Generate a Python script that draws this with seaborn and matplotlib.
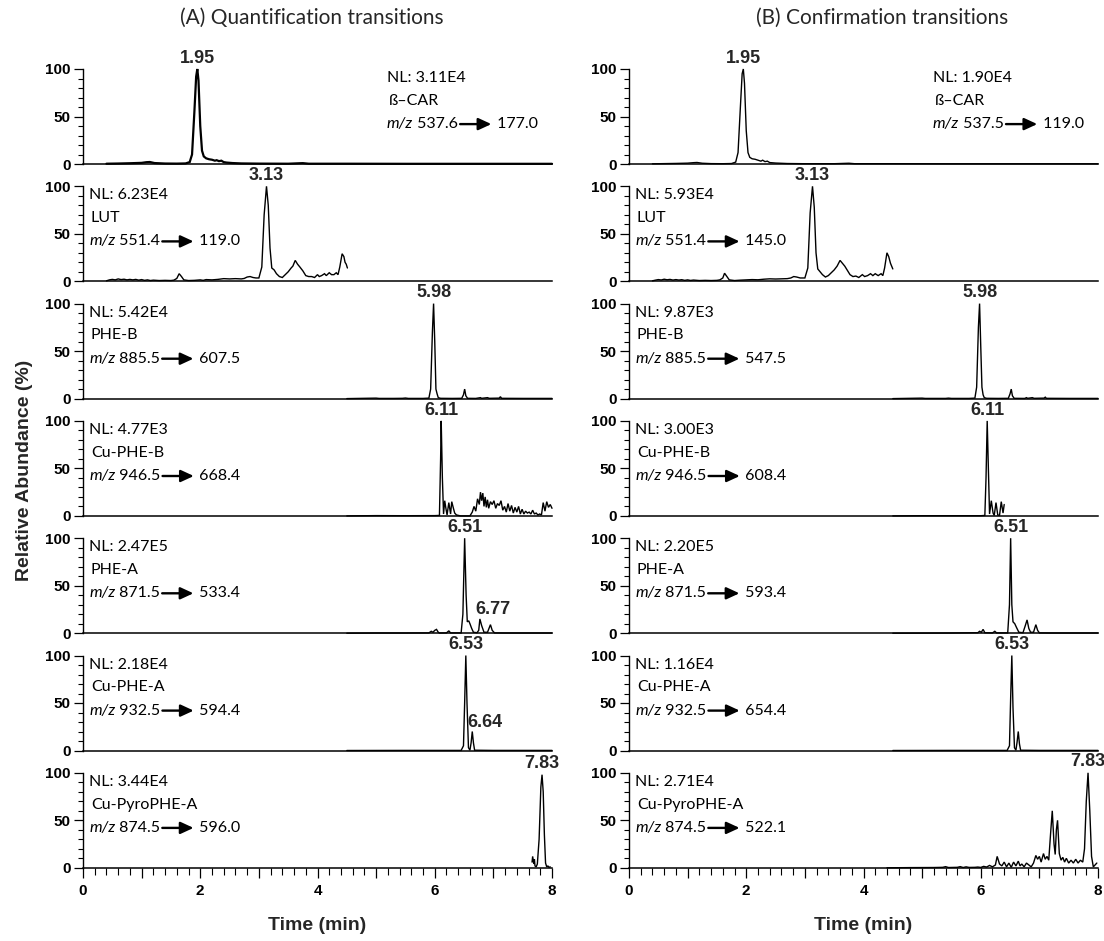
import numpy as np
import pandas as pd
import matplotlib
matplotlib.use("Agg")
import matplotlib.pyplot as plt
from matplotlib.text import OffsetFrom
import seaborn as sns

# ---------------- chromatogram traces: (time in min, relative abundance %) ----------------
quant_bcar = [(0.40, 0.3), (0.6, 0.5), (0.8, 0.8), (1.0, 1.2), (1.08, 1.9), (1.14, 2.1), (1.22, 1.0),
              (1.4, 0.5), (1.6, 0.4), (1.75, 0.6), (1.82, 2), (1.86, 10), (1.90, 55), (1.93, 92),
              (1.95, 100), (1.97, 88), (2.00, 40), (2.03, 14), (2.06, 8), (2.10, 6), (2.15, 5),
              (2.20, 4.5), (2.25, 3.5), (2.28, 4), (2.32, 3), (2.36, 3.5), (2.40, 2), (2.45, 1.5),
              (2.55, 1), (2.70, 0.6), (3.0, 0.4), (3.5, 0.3), (3.70, 0.8), (3.75, 0.9), (3.85, 0.3),
              (4.5, 0.3), (5.5, 0.2), (6.5, 0.2), (7.5, 0.2), (8.0, 0.2)]
quant_lut = [(0.40, 0.5), (0.45, 1.5), (0.50, 2), (0.55, 1.5), (0.60, 2.5), (0.65, 1.8), (0.70, 2.2),
             (0.75, 1.5), (0.80, 2), (0.85, 1.5), (0.90, 2), (0.95, 1.2), (1.00, 1.8), (1.05, 1),
             (1.10, 1.5), (1.15, 0.8), (1.20, 1.2), (1.30, 0.8), (1.40, 1), (1.50, 0.8), (1.55, 1.2),
             (1.60, 3), (1.64, 8), (1.68, 5), (1.72, 1.5), (1.80, 0.8), (1.90, 1), (2.00, 1.5),
             (2.05, 1), (2.10, 1.8), (2.20, 1.5), (2.30, 2), (2.40, 2.8), (2.50, 2.5), (2.60, 2.8),
             (2.70, 2.5), (2.75, 3), (2.80, 4.5), (2.85, 5), (2.90, 4), (2.95, 3.5), (3.00, 3.5),
             (3.05, 15), (3.09, 70), (3.13, 100), (3.16, 80), (3.19, 35), (3.22, 14), (3.26, 12),
             (3.30, 8), (3.35, 5), (3.40, 4), (3.45, 7), (3.50, 10), (3.55, 14), (3.58, 16),
             (3.62, 22), (3.66, 18), (3.70, 15), (3.75, 11), (3.80, 6), (3.85, 5), (3.90, 5),
             (3.95, 4), (4.00, 7), (4.03, 5), (4.07, 6), (4.12, 8), (4.15, 6), (4.20, 9), (4.24, 7),
             (4.28, 7), (4.32, 9), (4.35, 7), (4.38, 15), (4.42, 29), (4.45, 26), (4.47, 20),
             (4.49, 18), (4.51, 14)]
quant_pheb = [(4.5, 0), (4.8, 0.3), (5.0, 0.5), (5.05, 0.2), (5.3, 0.2), (5.45, 0.3), (5.5, 0.6),
              (5.55, 0.2), (5.8, 0.2), (5.9, 0.5), (5.93, 10), (5.96, 70), (5.98, 100), (6.00, 60),
              (6.02, 10), (6.04, 5), (6.06, 1), (6.10, 0.3), (6.30, 0.2), (6.46, 0.3), (6.49, 4),
              (6.51, 10), (6.53, 3), (6.56, 0.3), (6.70, 0.2), (6.78, 1), (6.80, 0.3), (6.90, 1),
              (6.93, 0.3), (7.10, 0.5), (7.12, 2), (7.14, 0.3), (7.5, 0.2), (8.0, 0.2)]
quant_cupheb = [(4.5, 0), (5.0, 0.3), (5.5, 0.2), (6.0, 0.3), (6.08, 0.5), (6.10, 60), (6.11, 100),
                (6.13, 40), (6.15, 2), (6.17, 16), (6.19, 8), (6.21, 1), (6.24, 14), (6.27, 2),
                (6.29, 15), (6.31, 10), (6.34, 3), (6.37, 1), (6.44, 0), (6.60, 0), (6.64, 4),
                (6.67, 10), (6.70, 5), (6.73, 18), (6.76, 12), (6.78, 25), (6.80, 16), (6.82, 24),
                (6.84, 10), (6.86, 20), (6.88, 9), (6.90, 17), (6.92, 8), (6.95, 15), (6.98, 12),
                (7.01, 16), (7.04, 8), (7.07, 13), (7.10, 11), (7.13, 16), (7.16, 6), (7.19, 10),
                (7.22, 4), (7.25, 13), (7.28, 5), (7.31, 11), (7.34, 3), (7.37, 9), (7.40, 4),
                (7.43, 10), (7.46, 2), (7.49, 7), (7.52, 2), (7.55, 5), (7.58, 3), (7.61, 4),
                (7.64, 2), (7.67, 6), (7.70, 2), (7.73, 3), (7.76, 1), (7.79, 2), (7.82, 1),
                (7.85, 14), (7.88, 5), (7.91, 15), (7.94, 9), (7.97, 12), (8.00, 8)]
quant_phea = [(4.5, 0), (5.0, 0.2), (5.5, 0.2), (5.90, 0.3), (5.94, 2), (5.97, 1), (6.00, 3),
              (6.03, 4), (6.06, 1), (6.08, 0.2), (6.20, 0.3), (6.24, 2.5), (6.27, 0.3), (6.45, 0.3),
              (6.48, 20), (6.51, 100), (6.535, 40), (6.555, 12), (6.58, 13), (6.60, 10), (6.63, 5),
              (6.66, 1), (6.72, 0.5), (6.75, 3), (6.77, 15), (6.80, 8), (6.84, 1), (6.90, 1),
              (6.95, 9), (6.98, 3), (7.02, 0.3), (7.2, 0.2), (8.0, 0.2)]
quant_cuphea = [(4.5, 0), (5.5, 0.1), (6.45, 0.1), (6.49, 5), (6.51, 50), (6.53, 100), (6.55, 50),
                (6.575, 3), (6.60, 0.3), (6.62, 8), (6.64, 20), (6.66, 8), (6.68, 0.3), (7.0, 0.1),
                (8.0, 0.1)]
quant_cupyro = [(7.66, 6), (7.67, 12), (7.69, 4), (7.70, 9), (7.71, 2), (7.73, 1), (7.75, 4),
                (7.78, 30), (7.81, 85), (7.83, 98), (7.85, 80), (7.87, 35), (7.89, 5), (7.91, 1),
                (7.93, 2), (7.95, 0.5), (7.97, 1)]

conf_bcar = [(0.40, 0.2), (0.6, 0.4), (0.8, 0.6), (1.0, 0.9), (1.1, 1.4), (1.16, 1.6), (1.25, 0.8),
             (1.4, 0.4), (1.6, 0.3), (1.75, 0.5), (1.82, 2), (1.86, 12), (1.90, 60), (1.93, 95),
             (1.95, 100), (1.97, 85), (2.00, 35), (2.03, 12), (2.06, 7), (2.10, 5.5), (2.15, 5),
             (2.20, 4), (2.25, 3), (2.28, 4), (2.32, 2.5), (2.36, 3), (2.40, 1.5), (2.50, 1),
             (2.70, 0.5), (3.0, 0.3), (3.5, 0.3), (3.70, 0.7), (3.75, 0.8), (3.85, 0.3), (4.5, 0.3),
             (5.5, 0.2), (6.5, 0.2), (7.5, 0.2), (8.0, 0.2)]
conf_lut = [(0.40, 0.5), (0.45, 1.2), (0.50, 1.8), (0.55, 1.4), (0.60, 2.2), (0.65, 1.6), (0.70, 2.0),
            (0.75, 1.3), (0.80, 1.8), (0.85, 1.3), (0.90, 1.7), (0.95, 1.0), (1.00, 1.5), (1.05, 0.9),
            (1.10, 1.3), (1.20, 0.8), (1.30, 1.0), (1.40, 0.8), (1.50, 1.0), (1.55, 1.5), (1.60, 3.5),
            (1.63, 8.5), (1.67, 5), (1.71, 1.5), (1.80, 0.8), (1.90, 1.2), (2.00, 1.5), (2.10, 1.8),
            (2.20, 1.6), (2.30, 2.2), (2.40, 2.6), (2.50, 2.4), (2.60, 2.6), (2.70, 2.8), (2.76, 3.5),
            (2.81, 5), (2.86, 4.5), (2.92, 3.5), (3.00, 3.5), (3.05, 14), (3.09, 72), (3.13, 100),
            (3.16, 78), (3.19, 30), (3.22, 13), (3.26, 10), (3.30, 7), (3.35, 4.5), (3.40, 6),
            (3.45, 9), (3.50, 12), (3.55, 16), (3.60, 22), (3.64, 19), (3.68, 16), (3.72, 12),
            (3.77, 7), (3.82, 5), (3.87, 5.5), (3.92, 4), (3.98, 7), (4.02, 5), (4.07, 6), (4.12, 8),
            (4.16, 6), (4.20, 8), (4.25, 6), (4.30, 8), (4.33, 6), (4.36, 14), (4.40, 30),
            (4.43, 26), (4.46, 19), (4.48, 16), (4.50, 13)]
conf_pheb = [(4.5, 0), (4.8, 0.3), (5.0, 0.5), (5.05, 0.2), (5.4, 0.2), (5.45, 0.5), (5.5, 0.2),
             (5.8, 0.2), (5.9, 0.5), (5.93, 12), (5.96, 75), (5.98, 100), (6.00, 55), (6.02, 12),
             (6.04, 4), (6.06, 1), (6.10, 0.3), (6.30, 0.2), (6.47, 0.3), (6.50, 5), (6.52, 10),
             (6.54, 3), (6.57, 0.3), (6.75, 0.2), (6.78, 1), (6.80, 0.3), (6.88, 1), (6.91, 0.3),
             (7.08, 0.5), (7.10, 1.5), (7.12, 0.3), (7.5, 0.2), (8.0, 0.2)]
conf_cupheb = [(4.5, 0), (5.0, 0.2), (5.5, 0.2), (6.0, 0.2), (6.07, 0.5), (6.09, 40), (6.11, 100),
               (6.13, 50), (6.15, 2), (6.18, 16), (6.21, 3), (6.23, 0.5), (6.26, 14), (6.29, 1),
               (6.32, 0.5), (6.35, 15), (6.38, 3), (6.40, 12)]
conf_phea = [(4.5, 0), (5.5, 0.2), (5.95, 0.5), (5.98, 2), (6.01, 1), (6.04, 4), (6.07, 0.5),
             (6.20, 0.3), (6.24, 2), (6.27, 0.3), (6.46, 0.3), (6.49, 30), (6.51, 100), (6.53, 30),
             (6.55, 12), (6.58, 10), (6.61, 6), (6.65, 1), (6.72, 0.5), (6.76, 8), (6.79, 14),
             (6.82, 5), (6.85, 1), (6.90, 1), (6.94, 9), (6.97, 3), (7.00, 0.3), (7.2, 0.2), (8.0, 0.2)]
conf_cuphea = [(4.5, 0), (5.5, 0.1), (6.45, 0.1), (6.49, 5), (6.51, 55), (6.53, 100), (6.55, 45),
               (6.575, 3), (6.60, 0.3), (6.62, 9), (6.64, 20), (6.66, 7), (6.68, 0.3), (7.0, 0.1),
               (8.0, 0.1)]
conf_cupyro = [(4.4, 0), (4.8, 0.2), (5.2, 0.3), (5.35, 0.5), (5.40, 1.2), (5.45, 0.3), (5.60, 0.5),
               (5.65, 1.2), (5.70, 0.3), (5.75, 1), (5.80, 0.4), (5.90, 0.5), (5.95, 0.8), (6.00, 0.4),
               (6.05, 1.5), (6.10, 0.8), (6.15, 2.5), (6.20, 1), (6.25, 3), (6.28, 12), (6.32, 4),
               (6.36, 2), (6.40, 6), (6.44, 1), (6.48, 5), (6.52, 0.5), (6.56, 6), (6.60, 2),
               (6.64, 7), (6.67, 2), (6.70, 4), (6.74, 1), (6.78, 5), (6.82, 3), (6.86, 1), (6.90, 5),
               (6.94, 13), (6.97, 9), (7.00, 12), (7.03, 6), (7.07, 15), (7.10, 9), (7.13, 12),
               (7.16, 8), (7.19, 35), (7.22, 60), (7.25, 25), (7.27, 14), (7.29, 40), (7.31, 50),
               (7.34, 15), (7.37, 8), (7.40, 11), (7.43, 6), (7.46, 10), (7.50, 5), (7.54, 8),
               (7.58, 5), (7.62, 9), (7.66, 5), (7.70, 8), (7.74, 6), (7.77, 20), (7.80, 70),
               (7.83, 100), (7.86, 60), (7.89, 12), (7.92, 1), (7.95, 3), (7.98, 5)]

# ---------------- panel annotations ----------------
compounds = ["ß–CAR", "LUT", "PHE-B", "Cu-PHE-B", "PHE-A", "Cu-PHE-A", "Cu-PyroPHE-A"]
quant_nl = ["3.11E4", "6.23E4", "5.42E4", "4.77E3", "2.47E5", "2.18E4", "3.44E4"]
conf_nl = ["1.90E4", "5.93E4", "9.87E3", "3.00E3", "2.20E5", "1.16E4", "2.71E4"]
quant_precursor = ["537.6", "551.4", "885.5", "946.5", "871.5", "932.5", "874.5"]
quant_product = ["177.0", "119.0", "607.5", "668.4", "533.4", "594.4", "596.0"]
conf_precursor = ["537.5", "551.4", "885.5", "946.5", "871.5", "932.5", "874.5"]
conf_product = ["119.0", "145.0", "547.5", "608.4", "593.4", "654.4", "522.1"]
quant_peaks = [[1.95], [3.13], [5.98], [6.11], [6.51, 6.77], [6.53, 6.64], [7.83]]
conf_peaks = [[1.95], [3.13], [5.98], [6.11], [6.51], [6.53], [7.83]]

quant_traces = [quant_bcar, quant_lut, quant_pheb, quant_cupheb, quant_phea, quant_cuphea, quant_cupyro]
conf_traces = [conf_bcar, conf_lut, conf_pheb, conf_cupheb, conf_phea, conf_cuphea, conf_cupyro]

# ---------------- styling ----------------
sns.set_theme(style="ticks")
plt.rcParams["font.family"] = ["Liberation Sans", "DejaVu Sans"]
plt.rcParams["axes.linewidth"] = 1.0
plt.rcParams["axes.edgecolor"] = "black"
plt.rcParams["xtick.color"] = "black"
plt.rcParams["ytick.color"] = "black"

TEXT_FONT = ["Lato", "DejaVu Sans"]
INFO_SIZE = 11.5
ARROW_LEN = 24
W, H = 1104, 941
fig = plt.figure(figsize=(W / 100, H / 100), dpi=100)
fig.patch.set_facecolor("white")

col_left = [83, 629]
ax_w, ax_h = 469, 95
row_top0, row_pitch = 69, 117.3

ARROW = dict(arrowstyle="-|>,head_length=0.65,head_width=0.3", color="black", lw=1.7,
             shrinkA=0, shrinkB=0, mutation_scale=12)


def info_block(ax, x, nl, name, prec, prod):
    kw = dict(fontsize=INFO_SIZE, family=TEXT_FONT, color="black")
    ax.text(x, 0.905, f"NL: {nl}", transform=ax.transAxes, va="center", ha="left", **kw)
    ax.text(x + 0.004, 0.665, name, transform=ax.transAxes, va="center", ha="left", **kw)
    t0 = ax.text(x, 0.42, "m/z", style="italic", transform=ax.transAxes, va="center", ha="left", **kw)
    t1 = ax.annotate(f" {prec}", xy=(1, 0.5), xycoords=t0, va="center", ha="left", **kw)
    ref = OffsetFrom(t1, (1, 0.5))
    ax.annotate("", xy=(ARROW_LEN, 0), xycoords=ref, xytext=(1.5, 0), textcoords=ref,
                arrowprops=ARROW)
    ax.annotate(f" {prod}", xy=(1, 0.5), xycoords=t1, xytext=(ARROW_LEN + 1, 0),
                textcoords="offset points", va="center", ha="left", **kw)


columns = [
    (quant_traces, quant_nl, quant_precursor, quant_product, quant_peaks),
    (conf_traces, conf_nl, conf_precursor, conf_product, conf_peaks),
]

for c, (traces, nls, precs, prods, peaks) in enumerate(columns):
    for r in range(7):
        top = row_top0 + r * row_pitch
        ax = fig.add_axes([col_left[c] / W, 1 - (top + ax_h) / H, ax_w / W, ax_h / H])
        ax.set_facecolor("white")
        df = pd.DataFrame(traces[r], columns=["time", "abundance"])
        lw = 1.6 if (c == 0 and r == 0) else 1.0
        sns.lineplot(data=df, x="time", y="abundance", ax=ax, color="black", linewidth=lw,
                     estimator=None, sort=False, errorbar=None, legend=False)
        for ln in ax.lines:
            ln.set_clip_on(False)
            ln.set_solid_joinstyle("miter")
        ax.set_xlim(0, 8)
        ax.set_ylim(0, 100)
        ax.set_xlabel("")
        ax.set_ylabel("")
        sns.despine(ax=ax)
        ax.spines["left"].set_linewidth(1.0)
        ax.spines["bottom"].set_linewidth(1.1)

        ax.set_yticks([0, 50, 100])
        ax.set_yticklabels(["0", "50", "100"], fontweight="bold", fontsize=11)
        ax.set_yticks(np.arange(0, 101, 10), minor=True)
        ax.tick_params(axis="y", which="major", length=6.5, width=0.9, pad=2.5, direction="out")
        ax.tick_params(axis="y", which="minor", length=3.5, width=0.8, direction="out")

        if r == 6:
            ax.set_xticks(np.arange(0, 9, 1))
            ax.set_xticklabels([str(v) if v % 2 == 0 else "" for v in range(9)],
                               fontweight="bold", fontsize=11)
            ax.set_xticks(np.arange(0, 8.01, 0.2), minor=True)
            ax.tick_params(axis="x", which="major", length=7.5, width=0.9, pad=4, direction="out")
            ax.tick_params(axis="x", which="minor", length=5, width=0.8, direction="out")
            ax.set_xlabel("Time (min)", fontweight="bold", fontsize=14, labelpad=14)
        else:
            ax.tick_params(axis="x", which="both", bottom=False, labelbottom=False)

        # retention-time labels placed on the trace
        for k, rt in enumerate(peaks[r]):
            h = np.interp(rt, df["time"], df["abundance"])
            if k == 0:
                ax.text(rt, h + 2.5, f"{rt:.2f}", ha="center", va="bottom", fontweight="bold",
                        fontsize=13, clip_on=False)
            else:
                ax.text(rt + 0.22, h + 1, f"{rt:.2f}", ha="center", va="bottom", fontweight="bold",
                        fontsize=13, clip_on=False)

        if r == 0:
            info_block(ax, 0.648, nls[r], compounds[r], precs[r], prods[r])
        else:
            info_block(ax, 0.013, nls[r], compounds[r], precs[r], prods[r])

fig.text(312 / W, 1 - 18 / H, "(A) Quantification transitions", ha="center", va="center",
         fontsize=15, family=TEXT_FONT)
fig.text(882 / W, 1 - 18 / H, "(B) Confirmation transitions", ha="center", va="center",
         fontsize=15, family=TEXT_FONT)
fig.text(25 / W, 1 - 470 / H, "Relative Abundance (%)", rotation=90, ha="center", va="center",
         fontsize=14, fontweight="bold")

fig.savefig("out.png", dpi=100, facecolor="white")
